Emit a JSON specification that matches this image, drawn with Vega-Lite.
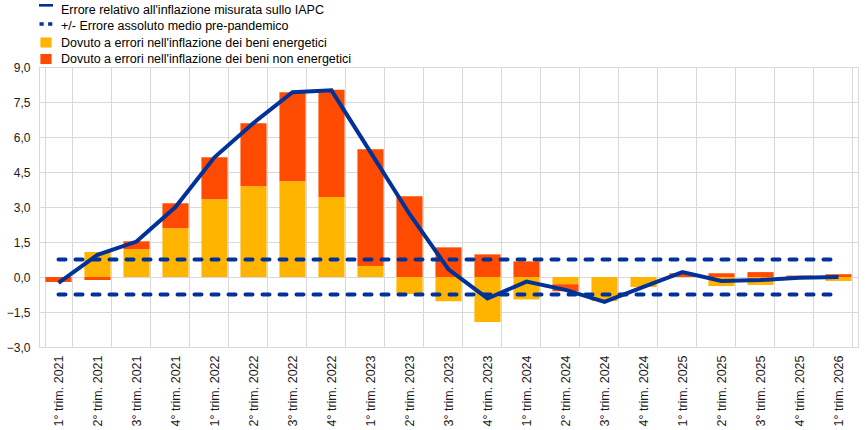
{
  "$schema": "https://vega.github.io/schema/vega-lite/v6.json",
  "width": 819,
  "height": 280,
  "autosize": {"type": "none"},
  "padding": {"left": 39, "top": 67, "right": 10, "bottom": 83},
  "config": {
    "locale": {"number": {"decimal": ",", "thousands": ".", "grouping": [3], "currency": ["", " €"]}},
    "view": {"stroke": "#d9d9d9"},
    "font": "Liberation Sans",
    "axis": {"labelFont": "Liberation Sans", "labelFontSize": 12, "labelColor": "#1a1a1a", "gridColor": "#d9d9d9", "gridWidth": 1, "domain": false, "ticks": false, "title": null}
  },
  "datasets": {
    "bars": [
      {"q": "1° trim. 2021", "s": "Dovuto a errori nell'inflazione dei beni energetici", "v": 0},
      {"q": "1° trim. 2021", "s": "Dovuto a errori nell'inflazione dei beni non energetici", "v": -0.21},
      {"q": "2° trim. 2021", "s": "Dovuto a errori nell'inflazione dei beni energetici", "v": 1.07},
      {"q": "2° trim. 2021", "s": "Dovuto a errori nell'inflazione dei beni non energetici", "v": -0.13},
      {"q": "3° trim. 2021", "s": "Dovuto a errori nell'inflazione dei beni energetici", "v": 1.19},
      {"q": "3° trim. 2021", "s": "Dovuto a errori nell'inflazione dei beni non energetici", "v": 0.34},
      {"q": "4° trim. 2021", "s": "Dovuto a errori nell'inflazione dei beni energetici", "v": 2.09},
      {"q": "4° trim. 2021", "s": "Dovuto a errori nell'inflazione dei beni non energetici", "v": 1.07},
      {"q": "1° trim. 2022", "s": "Dovuto a errori nell'inflazione dei beni energetici", "v": 3.33},
      {"q": "1° trim. 2022", "s": "Dovuto a errori nell'inflazione dei beni non energetici", "v": 1.8},
      {"q": "2° trim. 2022", "s": "Dovuto a errori nell'inflazione dei beni energetici", "v": 3.89},
      {"q": "2° trim. 2022", "s": "Dovuto a errori nell'inflazione dei beni non energetici", "v": 2.7},
      {"q": "3° trim. 2022", "s": "Dovuto a errori nell'inflazione dei beni energetici", "v": 4.1},
      {"q": "3° trim. 2022", "s": "Dovuto a errori nell'inflazione dei beni non energetici", "v": 3.82},
      {"q": "4° trim. 2022", "s": "Dovuto a errori nell'inflazione dei beni energetici", "v": 3.43},
      {"q": "4° trim. 2022", "s": "Dovuto a errori nell'inflazione dei beni non energetici", "v": 4.59},
      {"q": "1° trim. 2023", "s": "Dovuto a errori nell'inflazione dei beni energetici", "v": 0.47},
      {"q": "1° trim. 2023", "s": "Dovuto a errori nell'inflazione dei beni non energetici", "v": 5.0},
      {"q": "2° trim. 2023", "s": "Dovuto a errori nell'inflazione dei beni energetici", "v": -0.73},
      {"q": "2° trim. 2023", "s": "Dovuto a errori nell'inflazione dei beni non energetici", "v": 3.46},
      {"q": "3° trim. 2023", "s": "Dovuto a errori nell'inflazione dei beni energetici", "v": -1.04},
      {"q": "3° trim. 2023", "s": "Dovuto a errori nell'inflazione dei beni non energetici", "v": 1.27},
      {"q": "4° trim. 2023", "s": "Dovuto a errori nell'inflazione dei beni energetici", "v": -1.93},
      {"q": "4° trim. 2023", "s": "Dovuto a errori nell'inflazione dei beni non energetici", "v": 0.97},
      {"q": "1° trim. 2024", "s": "Dovuto a errori nell'inflazione dei beni energetici", "v": -0.96},
      {"q": "1° trim. 2024", "s": "Dovuto a errori nell'inflazione dei beni non energetici", "v": 0.67},
      {"q": "2° trim. 2024", "s": "Dovuto a errori nell'inflazione dei beni energetici", "v": -0.31},
      {"q": "2° trim. 2024", "s": "Dovuto a errori nell'inflazione dei beni non energetici", "v": -0.3},
      {"q": "3° trim. 2024", "s": "Dovuto a errori nell'inflazione dei beni energetici", "v": -1.03},
      {"q": "3° trim. 2024", "s": "Dovuto a errori nell'inflazione dei beni non energetici", "v": 0},
      {"q": "4° trim. 2024", "s": "Dovuto a errori nell'inflazione dei beni energetici", "v": -0.43},
      {"q": "4° trim. 2024", "s": "Dovuto a errori nell'inflazione dei beni non energetici", "v": 0},
      {"q": "1° trim. 2025", "s": "Dovuto a errori nell'inflazione dei beni energetici", "v": 0},
      {"q": "1° trim. 2025", "s": "Dovuto a errori nell'inflazione dei beni non energetici", "v": 0.16},
      {"q": "2° trim. 2025", "s": "Dovuto a errori nell'inflazione dei beni energetici", "v": -0.39},
      {"q": "2° trim. 2025", "s": "Dovuto a errori nell'inflazione dei beni non energetici", "v": 0.16},
      {"q": "3° trim. 2025", "s": "Dovuto a errori nell'inflazione dei beni energetici", "v": -0.34},
      {"q": "3° trim. 2025", "s": "Dovuto a errori nell'inflazione dei beni non energetici", "v": 0.21},
      {"q": "4° trim. 2025", "s": "Dovuto a errori nell'inflazione dei beni energetici", "v": -0.02},
      {"q": "4° trim. 2025", "s": "Dovuto a errori nell'inflazione dei beni non energetici", "v": 0.06},
      {"q": "1° trim. 2026", "s": "Dovuto a errori nell'inflazione dei beni energetici", "v": -0.17},
      {"q": "1° trim. 2026", "s": "Dovuto a errori nell'inflazione dei beni non energetici", "v": 0.12}
    ],
    "line": [
      {"q": "1° trim. 2021", "v": -0.25},
      {"q": "2° trim. 2021", "v": 0.95},
      {"q": "3° trim. 2021", "v": 1.52},
      {"q": "4° trim. 2021", "v": 3.0},
      {"q": "1° trim. 2022", "v": 5.13},
      {"q": "2° trim. 2022", "v": 6.6},
      {"q": "3° trim. 2022", "v": 7.92},
      {"q": "4° trim. 2022", "v": 8.0},
      {"q": "1° trim. 2023", "v": 5.35},
      {"q": "2° trim. 2023", "v": 2.7},
      {"q": "3° trim. 2023", "v": 0.33},
      {"q": "4° trim. 2023", "v": -0.92},
      {"q": "1° trim. 2024", "v": -0.2},
      {"q": "2° trim. 2024", "v": -0.55},
      {"q": "3° trim. 2024", "v": -1.07},
      {"q": "4° trim. 2024", "v": -0.42},
      {"q": "1° trim. 2025", "v": 0.21},
      {"q": "2° trim. 2025", "v": -0.17},
      {"q": "3° trim. 2025", "v": -0.13},
      {"q": "4° trim. 2025", "v": -0.03},
      {"q": "1° trim. 2026", "v": 0.0}
    ],
    "band": [
      {"q": "1° trim. 2021", "g": "hi", "v": 0.75},
      {"q": "1° trim. 2026", "g": "hi", "v": 0.75},
      {"q": "1° trim. 2021", "g": "lo", "v": -0.75},
      {"q": "1° trim. 2026", "g": "lo", "v": -0.75}
    ]
  },
  "layer": [
    {
      "data": {"name": "bars"},
      "mark": {"type": "bar"},
      "encoding": {
        "x": {
          "field": "q", "type": "nominal", "sort": null,
          "scale": {"domain": ["1° trim. 2021","2° trim. 2021","3° trim. 2021","4° trim. 2021","1° trim. 2022","2° trim. 2022","3° trim. 2022","4° trim. 2022","1° trim. 2023","2° trim. 2023","3° trim. 2023","4° trim. 2023","1° trim. 2024","2° trim. 2024","3° trim. 2024","4° trim. 2024","1° trim. 2025","2° trim. 2025","3° trim. 2025","4° trim. 2025","1° trim. 2026"], "paddingInner": 0.33, "paddingOuter": 0.165},
          "axis": {"labelAngle": -90, "labelPadding": 8, "labelFontSize": 12.5, "grid": true, "tickBand": "extent"}
        },
        "y": {
          "field": "v", "type": "quantitative", "stack": "zero",
          "scale": {"domain": [-3, 9], "nice": false, "zero": false},
          "axis": {"values": [-3, -1.5, 0, 1.5, 3, 4.5, 6, 7.5, 9], "format": ".1f", "labelPadding": 9, "grid": true, "labelOverlap": false, "tickCount": 20}
        },
        "color": {
          "field": "s", "type": "nominal",
          "scale": {
            "domain": ["Errore relativo all'inflazione misurata sullo IAPC", "+/- Errore assoluto medio pre-pandemico", "Dovuto a errori nell'inflazione dei beni energetici", "Dovuto a errori nell'inflazione dei beni non energetici"],
            "range": ["#003299", "#003299", "#ffb400", "#ff4b00"]
          },
          "legend": {
            "orient": "none", "legendX": 0, "legendY": -64.5, "title": null, "direction": "vertical",
            "symbolSize": 196, "labelFontSize": 12.5, "labelFont": "Liberation Sans", "labelColor": "#000000",
            "labelLimit": 600, "labelOffset": 8, "rowPadding": 2.5, "padding": 0, "symbolStrokeWidth": 0,
            "encode": {"symbols": {"update": {"shape": {"signal": "datum.index === 0 ? 'M-1,-0.79H1V-0.41H-1Z' : datum.index === 1 ? 'M-0.93,-0.52H-0.33V-0.05H-0.93Z M0.3,-0.52H0.9V-0.05H0.3Z' : 'M-0.8,-0.72H0.8V0.72H-0.8Z'"}}}}
          }
        },
        "order": {"field": "s", "sort": "ascending"}
      }
    },
    {
      "mark": {"type": "rule", "color": "#595959", "strokeWidth": 2},
      "encoding": {
        "y": {"datum": 0, "type": "quantitative"}
      }
    },
    {
      "data": {"name": "band"},
      "mark": {"type": "line", "color": "#003299", "strokeWidth": 4, "strokeDash": [7, 10], "strokeCap": "round"},
      "encoding": {
        "x": {"field": "q", "type": "nominal", "sort": null},
        "y": {"field": "v", "type": "quantitative"},
        "detail": {"field": "g"}
      }
    },
    {
      "data": {"name": "line"},
      "mark": {"type": "line", "color": "#003299", "strokeWidth": 4},
      "encoding": {
        "x": {"field": "q", "type": "nominal", "sort": null},
        "y": {"field": "v", "type": "quantitative"}
      }
    }
  ]
}
